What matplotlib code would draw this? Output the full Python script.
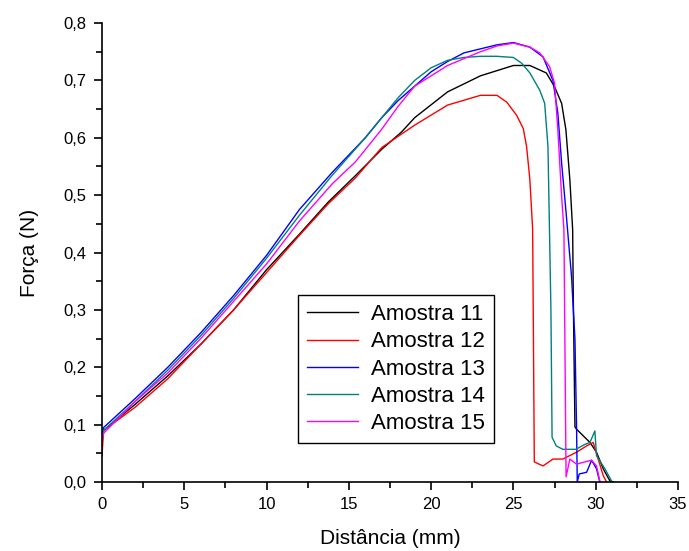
import numpy as np
import matplotlib
matplotlib.use("Agg")
import matplotlib.pyplot as plt
from matplotlib.ticker import MultipleLocator, FuncFormatter

# ---- data (distance in mm, force in N) ----
x11 = [0, 0.1, 2, 4, 6, 8, 10, 12, 13.75, 15.4, 17, 18.2, 19, 21, 23, 25, 26, 27,
       27.5, 27.93, 28.19, 28.43, 28.6, 28.64, 28.74, 28.84, 29.65, 30.05, 30.46, 30.86, 31.1]
y11 = [0.07, 0.09, 0.135, 0.185, 0.24, 0.30, 0.37, 0.432, 0.488, 0.534, 0.58, 0.61, 0.635,
       0.68, 0.708, 0.726, 0.726, 0.713, 0.689, 0.66, 0.614, 0.527, 0.44, 0.318, 0.096,
       0.092, 0.069, 0.052, 0.023, 0.002, 0.0]

x12 = [0, 0.1, 2, 4, 6, 8, 10, 12, 13.75, 15.4, 17, 19, 21, 23, 24, 24.6, 25.2, 25.6,
       25.8, 26.0, 26.17, 26.27, 26.8, 27.4, 28, 28.84, 29.45, 29.85, 30.15, 30.46, 30.66]
y12 = [0.045, 0.09, 0.13, 0.18, 0.24, 0.30, 0.365, 0.43, 0.485, 0.53, 0.583, 0.622, 0.657,
       0.674, 0.674, 0.662, 0.639, 0.616, 0.585, 0.527, 0.44, 0.035, 0.028, 0.04, 0.04,
       0.052, 0.063, 0.069, 0.04, 0.011, 0.0]

x13 = [0, 0.1, 2, 4, 6, 8, 10, 12, 14, 16, 17, 18, 19, 20, 21, 22, 23, 24, 25, 26, 26.8,
       27.4, 27.7, 27.93, 28.2, 28.53, 28.74, 28.84, 28.88, 29.0, 29.45, 29.75, 30.05, 30.25]
y13 = [0.08, 0.095, 0.145, 0.2, 0.26, 0.325, 0.395, 0.475, 0.54, 0.60, 0.635, 0.665, 0.69,
       0.715, 0.733, 0.748, 0.755, 0.762, 0.766, 0.758, 0.741, 0.70, 0.643, 0.556, 0.47,
       0.359, 0.249, 0.092, 0.0, 0.014, 0.017, 0.038, 0.023, 0.0]

x14 = [0, 0.1, 2, 4, 6, 8, 10, 12, 14, 16, 17, 18, 19, 20, 21, 22, 23, 24, 25, 25.5, 26,
       26.6, 26.9, 27.1, 27.28, 27.35, 27.6, 28, 28.8, 29.3, 29.65, 29.95, 30.05, 30.56, 30.96]
y14 = [0.075, 0.09, 0.14, 0.195, 0.255, 0.32, 0.39, 0.465, 0.535, 0.60, 0.635, 0.67, 0.70,
       0.722, 0.735, 0.74, 0.742, 0.742, 0.74, 0.73, 0.713, 0.683, 0.66, 0.585, 0.30, 0.078,
       0.063, 0.057, 0.057, 0.065, 0.069, 0.089, 0.046, 0.023, 0.002]

x15 = [0, 0.1, 2, 4, 6, 8, 10, 12, 14, 15.4, 17, 18, 19, 21, 23, 24, 25, 26, 26.6, 27.2,
       27.5, 27.7, 27.93, 28.07, 28.2, 28.43, 28.84, 29.2, 29.75, 30.05, 30.25]
y15 = [0.07, 0.085, 0.14, 0.19, 0.25, 0.315, 0.38, 0.455, 0.52, 0.558, 0.615, 0.655, 0.69,
       0.726, 0.75, 0.76, 0.765, 0.758, 0.748, 0.724, 0.695, 0.614, 0.498, 0.44, 0.009,
       0.04, 0.031, 0.034, 0.038, 0.028, 0.002]

series = [
    ("Amostra 11", x11, y11, "black"),
    ("Amostra 12", x12, y12, "#FF0000"),
    ("Amostra 13", x13, y13, "#0000FF"),
    ("Amostra 14", x14, y14, "#008080"),
    ("Amostra 15", x15, y15, "#FF00FF"),
]

plt.rcParams["font.family"] = ["Liberation Sans", "DejaVu Sans"]

fig = plt.figure(figsize=(6.89, 5.51), dpi=100)
ax = fig.add_axes([0.148, 0.1252, 0.836, 0.833])

for name, xs, ys, c in series:
    ax.plot(xs, ys, color=c, lw=1.0, label=name)

ax.set_xlim(0, 35)
ax.set_ylim(0, 0.8)

ax.spines["top"].set_visible(False)
ax.spines["right"].set_visible(False)
for s in ("left", "bottom"):
    ax.spines[s].set_linewidth(1.2)

ax.xaxis.set_major_locator(MultipleLocator(5))
ax.xaxis.set_minor_locator(MultipleLocator(2.5))
ax.yaxis.set_major_locator(MultipleLocator(0.1))
ax.yaxis.set_minor_locator(MultipleLocator(0.05))
ax.yaxis.set_major_formatter(FuncFormatter(lambda v, p: f"{v:.1f}".replace(".", ",")))
ax.tick_params(which="major", direction="out", length=6, width=1.2, labelsize=12, pad=5)
ax.tick_params(which="minor", direction="out", length=4, width=1.2)

ax.set_xlabel("Distância (mm)", fontsize=15, labelpad=12)
ax.set_ylabel("Força (N)", fontsize=15, labelpad=18)

leg = ax.legend(loc="lower left", bbox_to_anchor=(0.34, 0.085), fontsize=16,
                frameon=True, fancybox=False, framealpha=1, edgecolor="black",
                handlelength=2.3, handletextpad=0.6, labelspacing=0.28,
                borderpad=0.4, borderaxespad=0)
leg.get_frame().set_linewidth(1.0)

fig.savefig("out.png", dpi=100)
